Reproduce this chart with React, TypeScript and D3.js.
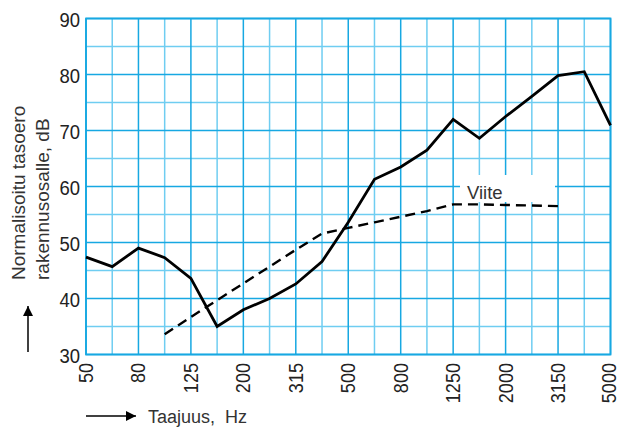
import * as d3 from "d3";

const bands = [
  "50", "63", "80", "100", "125", "160", "200", "250", "315", "400", "500",
  "630", "800", "1000", "1250", "1600", "2000", "2500", "3150", "4000", "5000",
];
const labeledBands = ["50", "80", "125", "200", "315", "500", "800", "1250", "2000", "3150", "5000"];

const measured = [
  47.4, 45.7, 49.0, 47.3, 43.6, 35.0, 38.0, 40.0, 42.6, 46.6, 53.6,
  61.3, 63.5, 66.5, 72.0, 68.6, 72.5, 76.1, 79.8, 80.5, 70.9,
];
const viiteBands = [
  "100", "125", "160", "200", "250", "315", "400", "500", "630", "800",
  "1000", "1250", "1600", "2000", "2500", "3150",
];
const viite = [
  33.6, 36.7, 39.7, 42.7, 45.7, 48.7, 51.6, 52.6, 53.6, 54.6,
  55.6, 56.8, 56.8, 56.7, 56.6, 56.5,
];
const yTicks = [30, 40, 50, 60, 70, 80, 90];
const yMinor = [35, 45, 55, 65, 75, 85];

const W = 621;
const H = 427;
const L = 86;
const R = 610.5;
const T = 18.5;
const B = 354.5;
const MAJOR = "#17a8e2";
const MINOR = "#6fcdf1";
const FONT = "'Liberation Sans', Arial, sans-serif";

export default function App() {
  const x = d3.scalePoint<string>().domain(bands).range([L, R]);
  const y = d3.scaleLinear().domain([30, 90]).range([B, T]);

  const line = d3
    .line<[string, number]>()
    .x((d) => x(d[0]) as number)
    .y((d) => y(d[1]));

  const solid = line(bands.map((b, i) => [b, measured[i]] as [string, number]));
  const dashed = line(viiteBands.map((b, i) => [b, viite[i]] as [string, number]));

  return (
    <svg
      width={W}
      height={H}
      style={{ position: "absolute", left: 0, top: 0, background: "#fff" }}
      fontFamily={FONT}
    >
      <defs>
        <marker id="ah" viewBox="0 0 10 10" refX="10" refY="5" markerWidth="17" markerHeight="10" markerUnits="userSpaceOnUse" orient="auto">
          <path d="M0,0 L10,5 L0,10 Z" fill="#000" />
        </marker>
      </defs>

      {/* minor grid */}
      {bands.filter((b) => !labeledBands.includes(b)).map((b) => (
        <line key={"vm" + b} x1={x(b)} x2={x(b)} y1={T} y2={B} stroke={MINOR} strokeWidth={1.5} />
      ))}
      {yMinor.map((v) => (
        <line key={"hm" + v} x1={L} x2={R} y1={y(v)} y2={y(v)} stroke={MINOR} strokeWidth={1.5} />
      ))}
      {/* major grid */}
      {labeledBands.map((b) => (
        <line key={"vM" + b} x1={x(b)} x2={x(b)} y1={T} y2={B} stroke={MAJOR} strokeWidth={1.5} />
      ))}
      {yTicks.map((v) => (
        <line key={"hM" + v} x1={L} x2={R} y1={y(v)} y2={y(v)} stroke={MAJOR} strokeWidth={1.5} />
      ))}
      <rect x={L} y={T} width={R - L} height={B - T} fill="none" stroke={MAJOR} strokeWidth={1.8} />

      {/* label box for Viite */}
      <rect x={460} y={175} width={95} height={27} fill="#fff" />
      <text x={467} y={199} fontSize={18.5} fill="#333">Viite</text>

      <path d={dashed ?? ""} fill="none" stroke="#000" strokeWidth={2.4} strokeDasharray="10,6" />
      <path d={solid ?? ""} fill="none" stroke="#000" strokeWidth={2.8} strokeLinejoin="miter" />

      {/* y tick labels */}
      {yTicks.map((v) => (
        <text
          key={"yt" + v}
          transform={`translate(80,${y(v) + 8.8}) scale(0.88,1)`}
          fontSize={21}
          textAnchor="end"
          fill="#222"
        >
          {v}
        </text>
      ))}
      {/* x tick labels, the last one kept inside the frame */}
      {labeledBands.map((b) => (
        <text
          key={"xt" + b}
          transform={`translate(${Math.min((x(b) as number) + 7, 615.5)},363) rotate(-90) scale(0.86,1)`}
          fontSize={21}
          textAnchor="end"
          fill="#222"
        >
          {b}
        </text>
      ))}

      {/* y title */}
      <text transform="translate(25,280) rotate(-90)" fontSize={19} fill="#333">
        Normalisoitu tasoero
      </text>
      <text transform="translate(49,280) rotate(-90)" fontSize={19} fill="#333">
        rakennusosalle, dB
      </text>
      <line x1={28} y1={352} x2={28} y2={306} stroke="#000" strokeWidth={1.5} markerEnd="url(#ah)" />

      {/* x title */}
      <line x1={86} y1={416} x2={136} y2={416} stroke="#000" strokeWidth={1.5} markerEnd="url(#ah)" />
      <text x={148} y={423} fontSize={18} fill="#333" style={{ whiteSpace: "pre" }}>
        {"Taajuus,  Hz"}
      </text>
    </svg>
  );
}
